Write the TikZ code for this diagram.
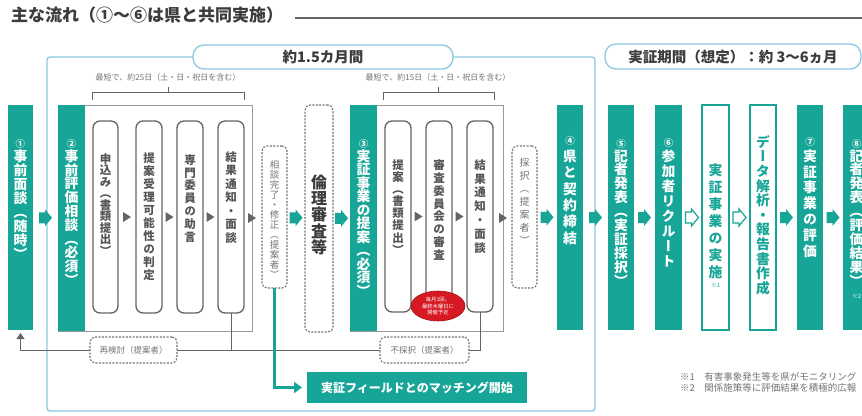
\documentclass[tikz,border=0pt]{standalone}
\usepackage{fontspec}
\usepackage{graphicx}
\setmainfont{Noto Sans CJK JP}
\newfontfamily\vjp[RawFeature=+vert]{Noto Sans CJK JP}
\usetikzlibrary{calc,shapes.geometric,arrows.meta}
\definecolor{tealc}{RGB}{22,165,150}
\definecolor{framec}{RGB}{140,200,225}
\definecolor{boxg}{RGB}{100,100,100}
\definecolor{txtg}{RGB}{85,85,85}
\definecolor{dashg}{RGB}{115,115,115}
\definecolor{titleg}{RGB}{60,60,60}
\definecolor{redc}{RGB}{215,25,35}
\newcommand\cdf{\fontsize{9.5}{9.5}\selectfont}
\ExplSyntaxOn
\NewDocumentCommand\vt{O{1.05em}m}
  {
    \vbox
      {
        \offinterlineskip
        \tl_map_inline:nn {#2}
          {
            \vbox~to~#1{\vss\hbox~to~1em{\hss\vrule~height~.88em~depth~.12em~width~0pt\relax ##1\hss}\vss}
          }
      }
  }
\ExplSyntaxOff
\newcommand\tri[1]{\fill[boxg] ($(#1)+(-4,-5)$) -- ($(#1)+(4,0)$) -- ($(#1)+(-4,5)$) -- cycle;}
\newcommand\barrow[4][fill=tealc]{%
  \coordinate (#2) at ($(#3.east)!.5!(#4.west)$);
  \path[#1] ($(#2)+(-6.5,-5.5)$) -- ++(6,0) -- ++(0,-3) -- ++(7,8.5) -- ++(-7,8.5) -- ++(0,-3) -- ++(-6,0) -- cycle;}
\tikzset{
  bar/.style={fill=tealc, draw=none, anchor=north west},
  obox/.style={draw=boxg!65, line width=0.8, fill=white, anchor=north west},
  ibox/.style={draw=boxg, line width=1.3, rounded corners=7, fill=white, anchor=north west},
  dbox/.style={draw=dashg, line width=1.1, dash pattern=on 2pt off 1.4pt, rounded corners=5, fill=white},
  olbox/.style={draw=tealc, line width=1.3, fill=white, anchor=north west},
  tab/.style={draw=framec, line width=1.3, rounded corners=11, fill=white, text=titleg, font=\bfseries\fontsize{14.5}{15}\selectfont},
  vw/.style={anchor=north, text=white, font=\vjp\bfseries\fontsize{13.8}{13.8}\selectfont},
  vtl/.style={anchor=north, text=tealc, font=\vjp\bfseries\fontsize{13.8}{13.8}\selectfont},
  vg/.style={anchor=north, text=txtg, font=\vjp\bfseries\fontsize{11.5}{11.5}\selectfont},
  vd/.style={anchor=north, text=dashg, font=\vjp\fontsize{9.5}{9.5}\selectfont},
  vr/.style={anchor=north, text=titleg, font=\vjp\bfseries\fontsize{16}{16}\selectfont},
  gline/.style={draw=boxg, line width=0.9},
  smalltxt/.style={text=dashg, font=\fontsize{8}{8}\selectfont},
  frame/.style={draw=framec, line width=1.3, rounded corners=3},
}
\begin{document}
\begin{tikzpicture}[x=1pt,y=-1pt, every node/.style={inner sep=0pt, outer sep=0pt}]
\useasboundingbox (0,0) rectangle (862,415);
\clip (0,0) rectangle (862,415);

% title
\node[anchor=west, font=\bfseries\fontsize{17}{17}\selectfont, text=titleg] (title) at (11,15.5) {主な流れ（①〜⑥は県と共同実施）};
\coordinate (tle) at (862,18);
\draw[draw=titleg!80, line width=1.1] ($(title.east)+(12,2.5)$) -- (tle);

% tabs and frame
\node[tab, minimum width=260, minimum height=24] (tab1) at (323,57) {約1.5カ月間};
\node[tab, minimum width=256, minimum height=25] (tab2) at (733,56.5) {実証期間（想定）：約 3〜6ヵ月};
\draw[frame] (tab1.west) -- (47,57) -- (47,411) -- (595,411) -- (595,57) -- (tab1.east);

% brackets
\node[smalltxt] (br1) at (168,77) {最短で、約25日（土・日・祝日を含む）};
\node[smalltxt] (br2) at (438,77) {最短で、約15日（土・日・祝日を含む）};
\draw[gline] (92,100) -- (92,92) -- (244,92) -- (244,100) (168,92) -- (168,87);
\draw[gline] (383,100) -- (383,92) -- (494,92) -- (494,100) (438,92) -- (438,87);

% bars and boxes
\node[bar, minimum width=25, minimum height=225] (n1) at (8,105) {};
\node[obox, minimum width=194, minimum height=226] (o2) at (58,105) {};
\node[bar, minimum width=27, minimum height=226] (n2) at (58,105) {};
\node[ibox, minimum width=25, minimum height=192] (a1) at (93,121) {};
\node[ibox, minimum width=26, minimum height=192] (a2) at (136,121) {};
\node[ibox, minimum width=26, minimum height=192] (a3) at (177,121) {};
\node[ibox, minimum width=26, minimum height=192] (a4) at (218,121) {};
\node[dbox, anchor=north west, minimum width=25, minimum height=142] (sd) at (262,146) {};
\node[dbox, anchor=north west, minimum width=28, minimum height=227] (rs) at (305,105) {};
\node[obox, minimum width=153, minimum height=226] (o3) at (350,105) {};
\node[bar, minimum width=27, minimum height=226] (n3) at (350,105) {};
\node[ibox, minimum width=26, minimum height=191] (c1) at (385,121) {};
\node[ibox, minimum width=26, minimum height=191] (c2) at (426,121) {};
\node[ibox, minimum width=26, minimum height=191] (c3) at (467,121) {};
\node[dbox, anchor=north west, minimum width=25, minimum height=142] (sa) at (512,146) {};
\node[bar, minimum width=26, minimum height=225] (n4) at (557,105) {};
\node[bar, minimum width=26, minimum height=225] (n5) at (608,105) {};
\node[bar, minimum width=27, minimum height=225] (n6) at (655,105) {};
\node[olbox, minimum width=27, minimum height=225] (ex) at (702,105) {};
\node[olbox, minimum width=26, minimum height=225] (da) at (750,105) {};
\node[bar, minimum width=26, minimum height=225] (n7) at (797,105) {};
\node[bar, minimum width=28, minimum height=225] (n8) at (843,105) {};

% small triangles
\coordinate (p1) at ($(a1.east)!.5!(a2.west)$); \tri{p1}
\coordinate (p2) at ($(a2.east)!.5!(a3.west)$); \tri{p2}
\coordinate (p3) at ($(a3.east)!.5!(a4.west)$); \tri{p3}
\coordinate (p4) at (o2.east); \tri{p4}
\coordinate (q1) at ($(c1.east)!.5!(c2.west)$); \tri{q1}
\coordinate (q2) at ($(c2.east)!.5!(c3.west)$); \tri{q2}
\coordinate (q3) at (o3.east); \tri{q3}

% vertical texts
\node[vw] (t1) at (20.5,135) {\vt[14pt]{{\cdf ①}事前面談︵随時︶}};
\node[vw] (t2) at (71.5,135.3) {\vt[13.8pt]{{\cdf ②}事前評価相談︵必須︶}};
\node[vg] (ta1) at (105.5,153) {\vt[11.5pt]{申込み︵書類提出︶}};
\node[vg] (ta2) at (149,152) {\vt[13pt]{提案受理可能性の判定}};
\node[vg] (ta3) at (190,153.6) {\vt[12.8pt]{専門委員の助言}};
\node[vg] (ta4) at (231,150.3) {\vt[13.5pt]{結果通知・面談}};
\node[vd] (tsd) at (274.5,160) {\vt[10pt]{相談完了・修正︵提案者︶}};
\node[vr] (trs) at (319,174) {\vt[16.3pt]{倫理審査等}};
\node[vw] (t3) at (363.5,135.75) {\vt[13.5pt]{{\cdf ③}実証事業の提案︵必須︶}};
\node[vg] (tc1) at (398,159) {\vt[12.1pt]{提案︵書類提出︶}};
\node[vg] (tc2) at (439,158.5) {\vt[12.9pt]{審査委員会の審査}};
\node[vg] (tc3) at (480,158.1) {\vt[13.8pt]{結果通知・面談}};
\node[vd, font=\vjp\fontsize{10}{10}\selectfont] (tsa) at (524.5,156.5) {\vt[13pt]{採択︵提案者︶}};
\node[vw] (t4) at (570,131.4) {\vt[16.4pt]{{\cdf ④}県と契約締結}};
\node[vw] (t5) at (621,135) {\vt[13.9pt]{{\cdf ⑤}記者発表︵実証採択︶}};
\node[vw] (t6) at (668.5,133.5) {\vt[15pt]{{\cdf ⑥}参加者リクルート}};
\node[vtl] (tex) at (715.5,161.5) {\vt[17pt]{実証事業の実施}};
\node[text=tealc, font=\fontsize{6}{6}\selectfont] (nt1) at (715.5,285) {※1};
\node[vtl] (tda) at (763,134.7) {\vt[14.6pt]{データ解析・報告書作成}};
\node[vw] (t7) at (810,132.3) {\vt[15.8pt]{{\cdf ⑦}実証事業の評価}};
\node[vw] (t8) at (856.5,135) {\vt[13.9pt]{{\cdf ⑧}記者発表︵評価結果︶}};
\node[text=white, font=\fontsize{6}{6}\selectfont] (nt2) at (856.5,296) {※2};

% block arrows
\barrow{ar1}{n1}{o2}
\barrow{ar2}{sd}{rs}
\barrow{ar3}{rs}{o3}
\barrow{ar4}{sa}{n4}
\barrow{ar5}{n4}{n5}
\barrow{ar6}{n5}{n6}
\barrow[draw=tealc, line width=1.2, fill=white]{ar7}{n6}{ex}
\barrow[draw=tealc, line width=1.2, fill=white]{ar8}{ex}{da}
\barrow{ar9}{da}{n7}
\barrow{ar10}{n7}{n8}

% bottom feedback
\node[dbox, minimum width=87, minimum height=26, text=dashg, font=\fontsize{8.5}{8.5}\selectfont] (rk) at (133.5,350) {再検討（提案者）};
\node[dbox, minimum width=89, minimum height=26, text=dashg, font=\fontsize{8.5}{8.5}\selectfont] (fs) at (424.5,350) {不採択（提案者）};
\draw[gline] (a4.south) -- (a4.south |- rk.east);
\draw[gline] (fs.west) -- (rk.east);
\draw[gline] (c3.south) -- (c3.south |- fs.east) -- (fs.east);
\draw[gline, -{Triangle[width=8pt,length=6pt]}, shorten >=3pt] (rk.west) -- (rk.west -| n1.south) -- (n1.south);

% badge
\node[ellipse, fill=redc, draw=redc!75!black, line width=0.6, minimum width=54, minimum height=30, align=center, text=white, font=\fontsize{5.3}{6.3}\selectfont] (badge) at (438,306) {毎月1回、\\最終木曜日に\\開催予定};

% matching
\node[fill=tealc, minimum width=220, minimum height=31, text=white, font=\bfseries\fontsize{12}{12}\selectfont] (mt) at (417,387.5) {実証フィールドとのマッチング開始};
\draw[tealc, line width=3, -{Triangle[width=11pt,length=8pt]}, shorten >=5pt] (sd.south) -- (sd.south |- mt.west) -- (mt.west);

% footnotes
\node[anchor=west, text=dashg, font=\fontsize{9.5}{10}\selectfont] (fn1) at (680,377) {※1　有害事象発生等を県がモニタリング};
\node[anchor=west, text=dashg, font=\fontsize{9.5}{10}\selectfont] (fn2) at (680,388) {※2　関係施策等に評価結果を積極的広報};
\end{tikzpicture}
\end{document}
